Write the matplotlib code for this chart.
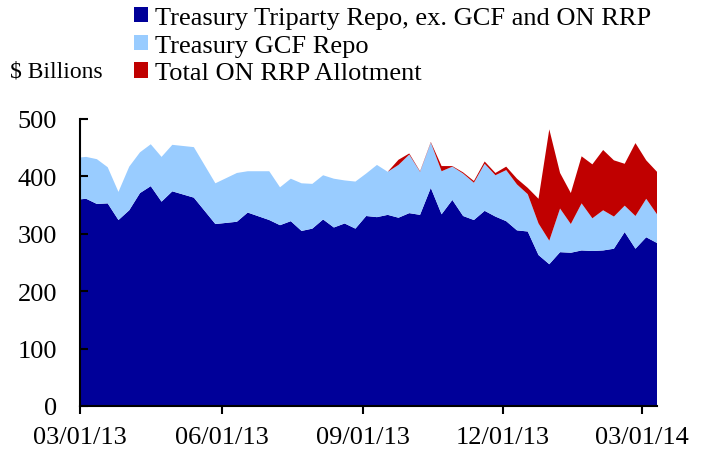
import matplotlib
matplotlib.use("Agg")
import matplotlib.pyplot as plt
import matplotlib.dates as mdates
from matplotlib.patches import Patch
import numpy as np
import pandas as pd

plt.rcParams['font.family'] = ['Liberation Serif', 'DejaVu Serif']

dates = pd.to_datetime([
    "2013-03-01", "2013-03-05", "2013-03-12", "2013-03-19", "2013-03-26",
    "2013-04-02", "2013-04-09", "2013-04-16", "2013-04-23", "2013-04-30",
    "2013-05-14", "2013-05-28", "2013-06-11", "2013-06-18", "2013-07-02",
    "2013-07-09", "2013-07-16", "2013-07-23", "2013-07-30", "2013-08-06",
    "2013-08-13", "2013-08-20", "2013-08-27", "2013-09-03", "2013-09-10",
    "2013-09-17", "2013-09-24", "2013-10-01", "2013-10-08", "2013-10-15",
    "2013-10-22", "2013-10-29", "2013-11-05", "2013-11-12", "2013-11-19",
    "2013-11-26", "2013-12-03", "2013-12-10", "2013-12-17", "2013-12-24",
    "2013-12-31", "2014-01-07", "2014-01-14", "2014-01-21", "2014-01-28",
    "2014-02-04", "2014-02-11", "2014-02-18", "2014-02-25", "2014-03-04",
    "2014-03-11",
])

triparty = [
    360, 361, 352, 353, 324, 341, 371, 383, 356, 374,
    363, 317, 321, 337, 324, 315, 322, 305, 309, 325,
    311, 318, 309, 331, 329, 333, 328, 336, 333, 380,
    334, 359, 331, 324, 340, 330, 322, 306, 304, 263,
    247, 268, 267, 271, 270, 271, 274, 303, 274, 294,
    284,
]

gcf = [
    73, 73, 78, 63, 49, 76, 71, 73, 78, 81,
    88, 71, 85, 72, 85, 66, 74, 83, 78, 77,
    85, 75, 82, 74, 91, 75, 92, 102, 75, 79,
    75, 58, 74, 65, 82, 72, 89, 80, 65, 55,
    41, 76, 50, 82, 57, 70, 56, 46, 57, 67,
    50,
]

on_rrp = [
    0, 0, 0, 0, 0, 0, 0, 0, 0, 0,
    0, 0, 0, 0, 0, 0, 0, 0, 0, 0,
    0, 0, 0, 0, 0, 0, 9, 2, 1, 1,
    9, 1, 2, 3, 4, 4, 6, 10, 11, 43,
    194, 62, 54, 82, 94, 105, 98, 73, 127, 67,
    74,
]

labels = ["Treasury Triparty Repo, ex. GCF and ON RRP",
          "Treasury GCF Repo",
          "Total ON RRP Allotment"]
colors = ["#000099", "#99CCFF", "#C00000"]

tick_dates = pd.to_datetime(["2013-03-01", "2013-06-01", "2013-09-01",
                             "2013-12-01", "2014-03-01"])
y_ticks = [0, 100, 200, 300, 400, 500]

fig = plt.figure(figsize=(7.07, 4.52), dpi=100)
ax = fig.add_axes([80/707, 1-407/452, (657-80)/707, (407-120)/452])

ax.stackplot(dates, triparty, gcf, on_rrp, colors=colors, linewidth=0)

ax.set_xlim(dates[0], dates[-1])
ax.set_ylim(0, 500)
ax.set_yticks(y_ticks)
ax.set_xticks(tick_dates)
ax.xaxis.set_major_formatter(mdates.DateFormatter("%m/%d/%y"))

for s in ["top", "right"]:
    ax.spines[s].set_visible(False)
for s in ["left", "bottom"]:
    ax.spines[s].set_linewidth(1.5)
    ax.spines[s].set_color("black")

ax.tick_params(axis="y", direction="in", length=6, width=1.5, pad=16.5, labelsize=19)
ax.tick_params(axis="x", direction="out", length=6, width=1.5, pad=8.5, labelsize=19)

handles = [Patch(facecolor=c, edgecolor="none") for c in colors]
fig.legend(handles, labels, loc="upper left", bbox_to_anchor=(134/707, 1-8/452),
           frameon=False, fontsize=19, handlelength=0.53, handleheight=0.5,
           handletextpad=0.27, labelspacing=0.215, borderpad=0.0, borderaxespad=0.0)

fig.text(10/707, 1-72/452, "$ Billions", fontsize=17, va="center", ha="left")

fig.savefig("out.png", dpi=100)
